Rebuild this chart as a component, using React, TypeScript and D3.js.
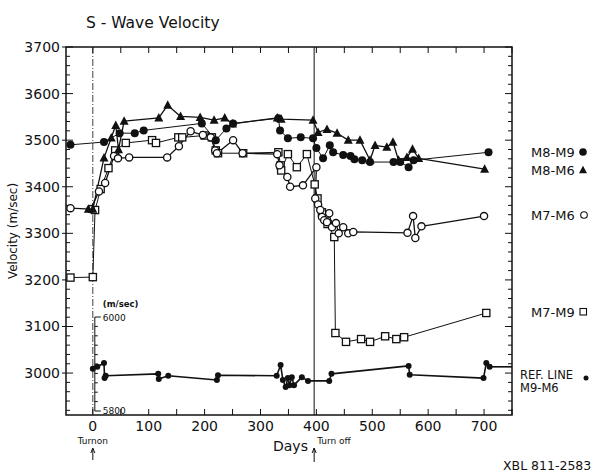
import React from "react";
import * as d3 from "d3";

type P = [number, number];

const m8m9: P[] = [
  [-40, 3490], [20, 3496], [48, 3515], [75, 3515], [91, 3521], [195, 3536], [220, 3500],
  [239, 3525], [251, 3536], [332, 3547], [335, 3521], [349, 3504], [372, 3506], [394, 3504],
  [400, 3483], [412, 3461], [424, 3489], [430, 3474], [448, 3468], [461, 3466], [468, 3459],
  [482, 3457], [496, 3453], [538, 3453], [550, 3453], [565, 3442], [574, 3457], [708, 3474],
];

const m8m6: P[] = [
  [-8, 3352], [0, 3352], [20, 3462], [33, 3505], [41, 3532], [46, 3480], [56, 3541],
  [118, 3548], [134, 3575], [157, 3551], [192, 3549], [217, 3543], [236, 3548], [250, 3535],
  [330, 3548], [337, 3545], [394, 3543], [403, 3517], [419, 3523], [437, 3515], [457, 3500],
  [478, 3500], [496, 3457], [505, 3489], [526, 3485], [537, 3496], [547, 3457], [562, 3463],
  [572, 3481], [583, 3461], [701, 3438],
];

const m7m6: P[] = [
  [-40, 3354], [-4, 3352], [11, 3390], [22, 3408], [38, 3466], [45, 3461], [65, 3463],
  [133, 3463], [154, 3487], [175, 3519], [197, 3511], [211, 3506], [219, 3478], [222, 3472],
  [251, 3500], [268, 3472], [330, 3470], [334, 3446], [348, 3421], [353, 3400], [376, 3403],
  [400, 3442], [398, 3375], [403, 3362], [407, 3350], [410, 3335], [414, 3328], [419, 3324],
  [423, 3343], [428, 3313], [435, 3322], [440, 3300], [448, 3313], [457, 3300], [466, 3303],
  [563, 3301], [573, 3337], [577, 3290], [588, 3315], [700, 3337],
];

const m7m9: P[] = [
  [-40, 3205], [0, 3206], [4, 3350], [14, 3395], [28, 3440], [40, 3478], [59, 3494],
  [106, 3500], [113, 3494], [153, 3506], [160, 3506], [200, 3510], [213, 3506], [220, 3478],
  [224, 3472], [269, 3472], [332, 3474], [336, 3446], [337, 3435], [349, 3470], [365, 3442],
  [383, 3470], [397, 3405], [402, 3375], [410, 3345], [420, 3320], [432, 3292], [434, 3086],
  [453, 3067], [480, 3073], [496, 3067], [523, 3079], [543, 3073], [557, 3077], [704, 3129],
];

// Reference line M9-M6, read on the inset scale (5800-6000 m/sec)
const refLine: P[] = [
  [0, 5890], [8, 5894], [20, 5902], [21, 5870], [23, 5875], [117, 5879], [118, 5868],
  [135, 5875], [222, 5866], [224, 5876], [329, 5875], [336, 5898], [340, 5866], [345, 5851],
  [349, 5870], [352, 5855], [356, 5872], [360, 5855], [374, 5872], [385, 5864], [423, 5864],
  [427, 5879], [565, 5896], [567, 5877], [699, 5870], [704, 5902], [710, 5894],
];

const yTickLabels = [3000, 3100, 3200, 3300, 3400, 3500, 3600, 3700];
const xTickLabels = [0, 100, 200, 300, 400, 500, 600, 700];
const turnOn = 0;
const turnOff = 396;

const W = 593;
const H = 476;
const FONT = "'DejaVu Sans', sans-serif";

const x = d3.scaleLinear().domain([-48, 750]).range([66, 512]);
const y = d3.scaleLinear().domain([2910, 3700]).range([415, 47]);
const ySec = d3.scaleLinear().domain([5800, 6000]).range([411, 317]);

const line = d3.line<P>().x((d) => x(d[0])).y((d) => y(d[1]));
const refPath = d3.line<P>().x((d) => x(d[0])).y((d) => ySec(d[1]));

function tri(cx: number, cy: number, s: number) {
  const h = s * 0.9;
  return `M${cx},${cy - h * 0.6}L${cx + s / 2},${cy + h * 0.45}L${cx - s / 2},${cy + h * 0.45}Z`;
}

export default function App() {
  const x0 = x.range()[0], x1 = x.range()[1];
  const y0 = y.range()[1], y1 = y.range()[0];
  const minorY = d3.range(2920, 3701, 20);
  const ticksX = d3.range(0, 751, 50);
  const secTicks = d3.range(5800, 6001, 20);
  const lastRef = refLine[refLine.length - 1];

  const stroke = "#111";
  return (
    <div style={{ position: "absolute", left: 0, top: 0 }}>
      <svg width={W} height={H} style={{ display: "block", background: "#fff" }} fontFamily={FONT}>
        <text x={86} y={28} fontSize={15.5} fill={stroke}>S - Wave Velocity</text>

        {/* frame */}
        <rect x={x0} y={y0} width={x1 - x0} height={y1 - y0} fill="none" stroke={stroke} strokeWidth={1.5} />

        {/* left & right ticks */}
        {minorY.map((v) => {
          const major = v % 100 === 0;
          return (
            <g key={"yt" + v}>
              <line x1={major ? x0 - 4 : x0} x2={x0 + (major ? 7 : 4)} y1={y(v)} y2={y(v)} stroke={stroke} strokeWidth={1} />
              <line x1={x1} x2={x1 - (major ? 7 : 4)} y1={y(v)} y2={y(v)} stroke={stroke} strokeWidth={1} />
            </g>
          );
        })}
        {yTickLabels.map((v) => (
          <text key={"yl" + v} x={60} y={y(v) + 5} fontSize={14} textAnchor="end" fill={stroke}>{v}</text>
        ))}

        {/* top & bottom ticks */}
        {ticksX.map((v) => (
          <g key={"xt" + v}>
            <line x1={x(v)} x2={x(v)} y1={y0} y2={y0 + 6} stroke={stroke} strokeWidth={1} />
            <line x1={x(v)} x2={x(v)} y1={y1} y2={y1 - 6} stroke={stroke} strokeWidth={1} />
          </g>
        ))}
        {xTickLabels.map((v) => (
          <text key={"xl" + v} x={x(v)} y={431} fontSize={14} textAnchor="middle" fill={stroke}>{v}</text>
        ))}

        {/* turn-on / turn-off markers */}
        <line x1={x(turnOn)} x2={x(turnOn)} y1={y0} y2={y1} stroke={stroke} strokeWidth={0.8} strokeDasharray="7,2,1,2" />
        <line x1={x(turnOff)} x2={x(turnOff)} y1={y0} y2={y1} stroke={stroke} strokeWidth={1} />
        <text x={x(turnOn)} y={444} fontSize={9} textAnchor="middle" fill={stroke}>Turnon</text>
        <line x1={x(turnOn)} x2={x(turnOn)} y1={449} y2={460} stroke={stroke} strokeWidth={1} />
        <path d={`M${x(turnOn) - 2},${453}L${x(turnOn)},${448}L${x(turnOn) + 2},${453}`} fill="none" stroke={stroke} />
        <text x={x(turnOff) + 3} y={444} fontSize={9} fill={stroke}>Turn off</text>
        <line x1={x(turnOff)} x2={x(turnOff)} y1={448} y2={462} stroke={stroke} strokeWidth={1} />
        <path d={`M${x(turnOff) - 2},${453}L${x(turnOff)},${448}L${x(turnOff) + 2},${453}`} fill="none" stroke={stroke} />
        <text x={273} y={451} fontSize={14} fill={stroke}>Days</text>

        {/* y axis title */}
        <text transform={`translate(17,${231}) rotate(-90)`} fontSize={12} textAnchor="middle" fill={stroke}>Velocity (m/sec)</text>

        {/* inset scale for the reference line */}
        <line x1={x(0) + 2} x2={x(0) + 2} y1={ySec(6000)} y2={ySec(5800)} stroke={stroke} strokeWidth={1} />
        {secTicks.map((v) => (
          <line key={"st" + v} x1={x(0) + 2} x2={x(0) + (v % 200 === 0 ? 8 : 5)} y1={ySec(v)} y2={ySec(v)} stroke={stroke} strokeWidth={1} />
        ))}
        <text x={x(0) + 10} y={ySec(6000) - 10} fontSize={8.5} fontWeight="bold" fill={stroke}>(m/sec)</text>
        <text x={x(0) + 10} y={ySec(6000) + 4} fontSize={9} fill={stroke}>6000</text>
        <text x={x(0) + 10} y={ySec(5800) + 3} fontSize={9} fill={stroke}>5800</text>

        {/* series lines */}
        <g fill="none" stroke={stroke} strokeWidth={1.3} strokeLinejoin="round">
          <path d={line(m8m9) || ""} strokeWidth={1} />
          <path d={line(m8m6) || ""} />
          <path d={line(m7m6) || ""} />
          <path d={line(m7m9) || ""} strokeWidth={1} />
          <path d={refPath(refLine) || ""} strokeWidth={1.6} />
          <line x1={x(lastRef[0])} x2={x1} y1={ySec(lastRef[1])} y2={ySec(lastRef[1])} strokeWidth={1.6} />
        </g>

        {/* markers */}
        {m7m9.map((d, i) => (
          <rect key={"sq" + i} x={x(d[0]) - 3.6} y={y(d[1]) - 3.6} width={7.2} height={7.2} fill="#fff" stroke={stroke} strokeWidth={1.3} />
        ))}
        {m7m6.map((d, i) => (
          <circle key={"oc" + i} cx={x(d[0])} cy={y(d[1])} r={3.6} fill="#fff" stroke={stroke} strokeWidth={1.3} />
        ))}
        {m8m9.map((d, i) => (
          <circle key={"fc" + i} cx={x(d[0])} cy={y(d[1])} r={4} fill={stroke} />
        ))}
        {m8m6.map((d, i) => (
          <path key={"tr" + i} d={tri(x(d[0]), y(d[1]), 9)} fill={stroke} />
        ))}
        {refLine.map((d, i) => (
          <circle key={"rf" + i} cx={x(d[0])} cy={ySec(d[1])} r={3} fill={stroke} />
        ))}

        {/* legend labels */}
        <g fontSize={13} fill={stroke}>
          <text x={531} y={157}>M8-M9</text>
          <circle cx={583} cy={152} r={3.8} fill={stroke} />
          <text x={531} y={175}>M8-M6</text>
          <path d={tri(583, 170, 8)} fill={stroke} />
          <text x={531} y={220}>M7-M6</text>
          <circle cx={584} cy={215} r={3.3} fill="#fff" stroke={stroke} strokeWidth={1.1} />
          <text x={531} y={317}>M7-M9</text>
          <rect x={580} y={308.5} width={6.5} height={6.5} fill="#fff" stroke={stroke} strokeWidth={1.1} />
        </g>
        <g fontSize={11.5} fill={stroke}>
          <text x={520} y={379}>REF. LINE</text>
          <text x={520} y={392}>M9-M6</text>
        </g>
        <circle cx={586} cy={378} r={2.5} fill={stroke} />

        <text x={503} y={470} fontSize={12.5} fill={stroke}>XBL 811-2583</text>
      </svg>
    </div>
  );
}
